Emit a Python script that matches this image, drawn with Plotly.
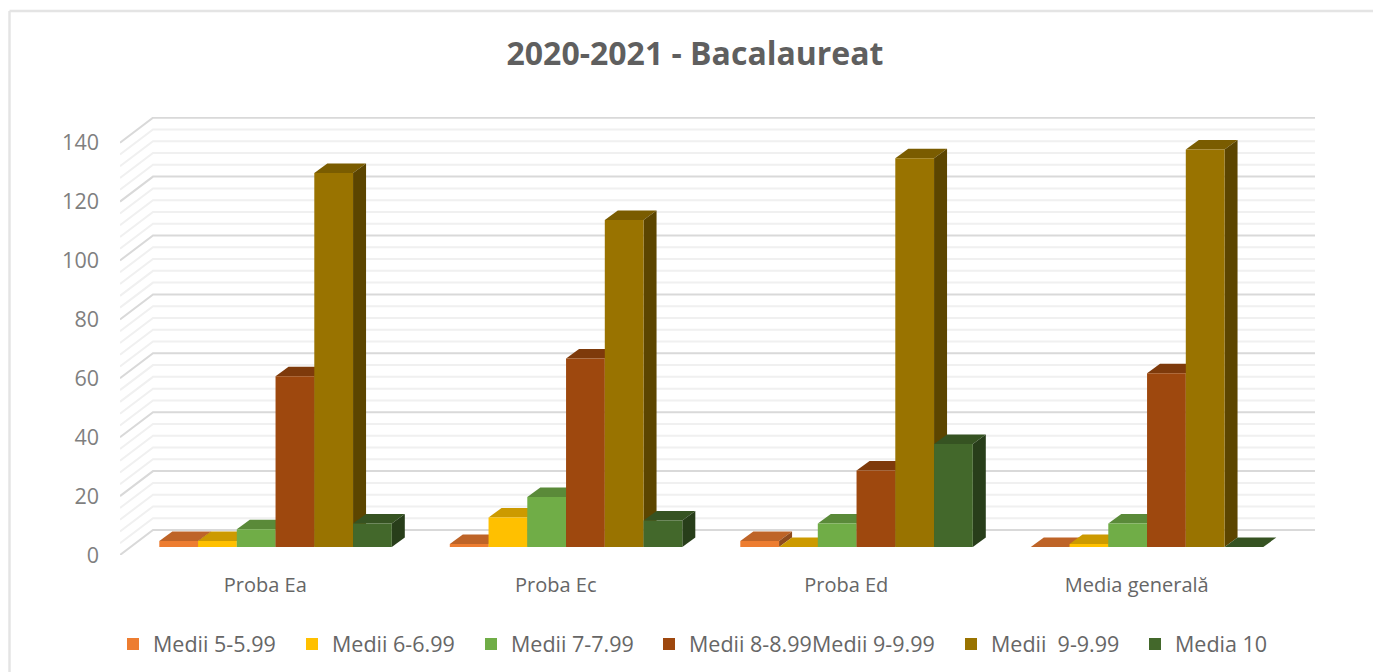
import plotly.graph_objects as go

categories = ["Proba Ea", "Proba Ec", "Proba Ed", "Media generală"]
series_names = ["Medii 5-5.99", "Medii 6-6.99", "Medii 7-7.99", "Medii 8-8.99", "Medii 9-9.99", "Medii  9-9.99", "Media 10"]
medii_5 = [2, 1, 2, 0]
medii_6 = [2, 10, 0, 1]
medii_7 = [6, 17, 8, 8]
medii_8 = [58, 64, 26, 59]
medii_9_empty = []
medii_9 = [127, 111, 132, 135]
media_10 = [8, 9, 35, 0]
series_values = [medii_5, medii_6, medii_7, medii_8, medii_9_empty, medii_9, media_10]
front_colors = ["#ED7D31", "#FFC000", "#70AD47", "#9E480E", "rgba(0,0,0,0)", "#997300", "#43682B"]
top_colors = ["#BE6428", "#CC9A00", "#5A8A39", "#7E3A0B", "rgba(0,0,0,0)", "#7A5C00", "#365322"]
side_colors = ["#8E4B1E", "#997300", "#43672B", "#5F2B08", "rgba(0,0,0,0)", "#5C4500", "#283E1A"]
legend_x_px = [113, 292, 471, 649, 772, 951, 1135]

W, H = 1373, 672
PX_L, PX_R, PX_T, PX_B = 120, 1315, 117, 555
PX_PER_U = 290.5
PX_PER_V = 2.945
xmax = (PX_R - PX_L) / PX_PER_U
ymax = (PX_B - PX_T) / PX_PER_V
WALL_DX = 33 / PX_PER_U
WALL_DY = 25 / PX_PER_V
BASE = 8 / PX_PER_V
BAR_LEFT = 39.3 / PX_PER_U
BAR_W = 38.75 / PX_PER_U
BAR_DX = 13 / PX_PER_U
BAR_DY = 9.5 / PX_PER_V

fig = go.Figure()


def wall(ticks, color, width):
    xs, ys = [], []
    for t in ticks:
        xs += [0, WALL_DX, xmax, None]
        ys += [t, t + WALL_DY, t + WALL_DY, None]
    fig.add_trace(go.Scatter(x=xs, y=ys, mode="lines", line=dict(color=color, width=width),
                             showlegend=False, hoverinfo="skip"))


wall([t for t in range(0, 141, 4) if t % 20], "#F0F0F0", 2)
wall(list(range(0, 141, 20)), "#D9D9D9", 2)


def face(xs, ys, color):
    fig.add_trace(go.Scatter(x=xs, y=ys, mode="lines", fill="toself", fillcolor=color,
                             line=dict(width=0, color=color), showlegend=False, hoverinfo="skip"))


# tops and right sides, painted left to right
drawn = [i for i, v in enumerate(series_values) if v]
for g in range(len(categories)):
    for pos, i in enumerate(drawn):
        v = series_values[i][g]
        x0 = g + BAR_LEFT + pos * BAR_W
        x1 = x0 + BAR_W
        top = BASE + v
        face([x0, x0 + BAR_DX, x1 + BAR_DX, x1, x0],
             [top, top + BAR_DY, top + BAR_DY, top, top], top_colors[i])
        face([x1, x1 + BAR_DX, x1 + BAR_DX, x1, x1],
             [BASE, BASE + BAR_DY, top + BAR_DY, top, BASE], side_colors[i])

# front faces on an overlaying pair of axes
legends = {}
for n, (name, vals, col, lx) in enumerate(zip(series_names, series_values, front_colors, legend_x_px)):
    key = "legend" if n == 0 else f"legend{n + 1}"
    if vals:
        pos = drawn.index(n)
        xs = [g + BAR_LEFT + (pos + 0.5) * BAR_W for g in range(len(categories))]
    else:
        xs = [None]
        vals = [None]
    fig.add_trace(go.Bar(x=xs, y=vals, base=BASE, width=BAR_W, name=name,
                         marker=dict(color=col, line=dict(width=0)),
                         xaxis="x2", yaxis="y2", legend=key))
    legends[key] = dict(x=(lx - PX_L) / (PX_R - PX_L), y=(PX_B - 644) / (PX_B - PX_T),
                        xanchor="left", yanchor="middle",
                        bgcolor="rgba(0,0,0,0)", font=dict(family="Open Sans", size=21.5, color="#666666"),
                        itemclick=False, itemdoubleclick=False)

paper_x = lambda px: (px - PX_L) / (PX_R - PX_L)
paper_y = lambda py: (PX_B - py) / (PX_B - PX_T)
frame = dict(type="line", xref="paper", yref="paper", layer="below", line=dict(color="#E4E4E4", width=2.5))

fig.update_layout(
    width=W, height=H,
    margin=dict(l=PX_L, r=W - PX_R, t=PX_T, b=H - PX_B, autoexpand=False),
    paper_bgcolor="white", plot_bgcolor="white",
    barmode="overlay",
    title=dict(text="<b>2020-2021 - Bacalaureat</b>", x=695 / W, xanchor="center", y=1 - 54 / H, yanchor="middle",
               font=dict(family="Open Sans", size=32, color="#5F5F5F")),
    xaxis=dict(range=[0, xmax], tickmode="array", tickvals=[g + 0.5 for g in range(len(categories))],
               ticktext=categories, showgrid=False, zeroline=False, showline=False, ticks="",
               ticklabelstandoff=16, tickfont=dict(family="Open Sans", size=20, color="#666666")),
    yaxis=dict(range=[0, ymax], tick0=0, dtick=20, showgrid=False, zeroline=False, showline=False, ticks="",
               ticklabelstandoff=20, tickfont=dict(family="Open Sans", size=21.5, color="#7F7F7F")),
    xaxis2=dict(range=[0, xmax], overlaying="x", visible=False),
    yaxis2=dict(range=[0, ymax], overlaying="y", visible=False),
    shapes=[
        dict(frame, x0=paper_x(9.5), x1=paper_x(W), y0=paper_y(11), y1=paper_y(11)),
        dict(frame, x0=paper_x(9.5), x1=paper_x(9.5), y0=paper_y(11), y1=paper_y(H)),
    ],
    **legends,
)

fig.write_html("out.html", config={"displayModeBar": False},
               post_script="document.body.style.margin='0';")
